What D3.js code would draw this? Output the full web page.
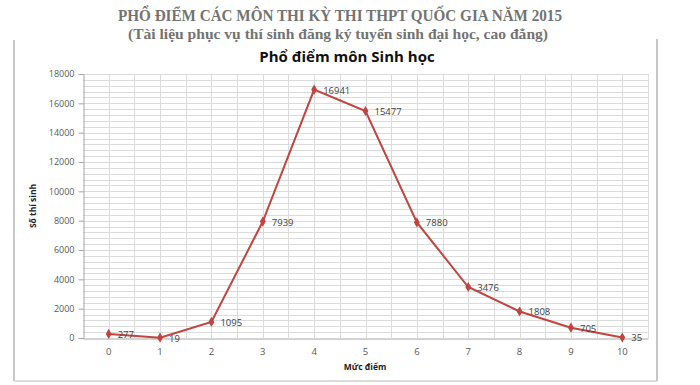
<!DOCTYPE html>
<html>
<head>
<meta charset="utf-8">
<script src="https://cdn.jsdelivr.net/npm/d3@7"></script>
<style>
  body { margin: 0; background: #fff; }
  svg { display: block; }
  .tick text { fill: #595959; font-family: "Open Sans", "DejaVu Sans", sans-serif; }
</style>
</head>
<body>
<div id="chart"></div>
<script>
// data
var scores = ["0", "1", "2", "3", "4", "5", "6", "7", "8", "9", "10"];
var students = [277, 19, 1095, 7939, 16941, 15477, 7880, 3476, 1808, 705, 35];
var yTicks = [0, 2000, 4000, 6000, 8000, 10000, 12000, 14000, 16000, 18000];

var W = 700, H = 385;
var svg = d3.select("#chart").append("svg")
  .attr("width", W).attr("height", H);

// page headings
svg.append("text")
  .attr("x", 340).attr("y", 21)
  .attr("text-anchor", "middle")
  .attr("textLength", 444).attr("lengthAdjust", "spacingAndGlyphs")
  .style("font-family", "'Liberation Serif', 'DejaVu Serif', serif")
  .style("font-weight", "bold").style("font-size", "16.5px")
  .style("fill", "#737373")
  .text("PHỔ ĐIỂM CÁC MÔN THI KỲ THI THPT QUỐC GIA NĂM 2015");
svg.append("text")
  .attr("x", 338).attr("y", 39)
  .attr("text-anchor", "middle")
  .attr("textLength", 420).attr("lengthAdjust", "spacingAndGlyphs")
  .style("font-family", "'Liberation Serif', 'DejaVu Serif', serif")
  .style("font-weight", "bold").style("font-size", "15.5px")
  .style("fill", "#737373")
  .text("(Tài liệu phục vụ thí sinh đăng ký tuyển sinh đại học, cao đẳng)");

// chart frame (left, right, bottom)
var frame = svg.append("g").attr("stroke", "#b5b5b5").attr("stroke-width", 1.5).attr("fill", "none");
frame.append("line").attr("x1", 14).attr("x2", 14).attr("y1", 40).attr("y2", 381);
frame.append("line").attr("x1", 657).attr("x2", 657).attr("y1", 39).attr("y2", 381);
frame.append("line").attr("x1", 14).attr("x2", 657).attr("y1", 381).attr("y2", 381).attr("stroke", "#d0d0d0");

svg.append("text")
  .attr("x", 347).attr("y", 62)
  .attr("text-anchor", "middle")
  .style("font-family", "'Open Sans', 'Noto Sans', sans-serif")
  .style("font-weight", "bold").style("font-size", "15px")
  .style("fill", "#111")
  .text("Phổ điểm môn Sinh học");

// scales
var x = d3.scaleBand().domain(scores).range([83, 648]);
var y = d3.scaleLinear().domain([0, 18000]).range([338, 74]);
function cx(d) { return x(d) + x.bandwidth() / 2; }

// gridlines
var grid = svg.append("g").attr("stroke", "#dcdcdc").attr("stroke-width", 1);
grid.selectAll("line.h")
  .data(d3.range(400, 18001, 400))
  .enter().append("line").attr("class", "h")
  .attr("x1", 83).attr("x2", 648)
  .attr("y1", function(d) { return Math.round(y(d)) + 0.5; })
  .attr("y2", function(d) { return Math.round(y(d)) + 0.5; });
var vpos = [];
scores.forEach(function(s) { vpos.push(x(s)); vpos.push(cx(s)); });
vpos.push(648);
grid.selectAll("line.v")
  .data(vpos.slice(1))
  .enter().append("line").attr("class", "v")
  .attr("x1", function(d) { return Math.round(d) + 0.5; })
  .attr("x2", function(d) { return Math.round(d) + 0.5; })
  .attr("y1", 74).attr("y2", 338);

// axes
var yAxis = svg.append("g")
  .attr("transform", "translate(83.5,0)")
  .call(d3.axisLeft(y).tickValues(yTicks).tickFormat(d3.format("d")).tickSize(5).tickPadding(4));
yAxis.selectAll(".tick text").style("font-size", "9px");
yAxis.selectAll("line, path").attr("stroke", "#a6a6a6");

var xAxis = svg.append("g")
  .attr("transform", "translate(0,338.5)")
  .call(d3.axisBottom(x).tickSize(0).tickPadding(10));
xAxis.selectAll(".tick text").style("font-size", "9.5px");
xAxis.select("path").attr("stroke", "#a6a6a6");

// axis titles
svg.append("text")
  .attr("transform", "translate(36,206) rotate(-90)")
  .attr("text-anchor", "middle")
  .style("font-family", "'Open Sans', 'Noto Sans', sans-serif")
  .style("font-weight", "bold").style("font-size", "8.5px")
  .style("fill", "#222")
  .text("Số thí sinh");
svg.append("text")
  .attr("x", 365).attr("y", 370)
  .attr("text-anchor", "middle")
  .style("font-family", "'Open Sans', 'Noto Sans', sans-serif")
  .style("font-weight", "bold").style("font-size", "8.5px")
  .style("fill", "#222")
  .text("Mức điểm");

// series
var pts = scores.map(function(s, i) { return { k: s, v: students[i] }; });
var line = d3.line().x(function(d) { return cx(d.k); }).y(function(d) { return y(d.v); });
svg.append("path")
  .datum(pts)
  .attr("d", line)
  .attr("fill", "none")
  .attr("stroke", "#c0443f")
  .attr("stroke-width", 2);

svg.selectAll("path.mark")
  .data(pts)
  .enter().append("path").attr("class", "mark")
  .attr("d", d3.symbol().type(d3.symbolDiamond).size(30))
  .attr("transform", function(d) { return "translate(" + cx(d.k) + "," + y(d.v) + ")"; })
  .attr("fill", "#c0443f");

svg.selectAll("text.lbl")
  .data(pts)
  .enter().append("text").attr("class", "lbl")
  .attr("x", function(d) { return cx(d.k) + 9; })
  .attr("y", function(d) { return y(d.v) + 4; })
  .style("font-family", "'Open Sans', 'DejaVu Sans', sans-serif")
  .style("font-size", "9.5px")
  .style("fill", "#404040")
  .text(function(d) { return d.v; });
</script>
</body>
</html>
